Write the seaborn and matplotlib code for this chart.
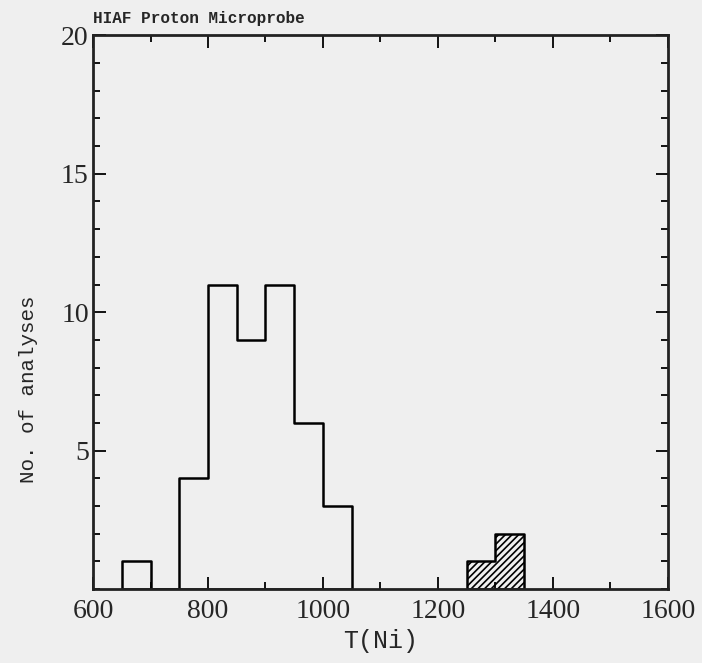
import numpy as np
import pandas as pd
import matplotlib
matplotlib.use('Agg')
import matplotlib.pyplot as plt
from matplotlib.ticker import MultipleLocator, FixedLocator
import seaborn as sns

# histogram data (bin width 50)
main_left_edges = [650, 700, 750, 800, 850, 900, 950, 1000]
main_counts = [1, 0, 4, 11, 9, 11, 6, 3]
hatch_left_edges = [1250, 1300]
hatch_counts = [1, 2]
bin_width = 50

title_text = 'HIAF Proton Microprobe'
x_label = 'T(Ni)'
y_label = 'No. of analyses'

sns.set_style('white')
plt.rcParams['font.family'] = ['Liberation Mono', 'DejaVu Sans']
plt.rcParams['hatch.linewidth'] = 1.2

main_df = pd.DataFrame({'t': np.array(main_left_edges) + bin_width / 2, 'n': main_counts})
hatch_df = pd.DataFrame({'t': np.array(hatch_left_edges) + bin_width / 2, 'n': hatch_counts})
main_bins = main_left_edges + [main_left_edges[-1] + bin_width]
hatch_bins = hatch_left_edges + [hatch_left_edges[-1] + bin_width]

fig = plt.figure(figsize=(7.02, 6.63), dpi=100)
fig.patch.set_facecolor('#efefef')
ax = fig.add_axes([0.1325, 0.1116, 0.819, 0.835])
ax.set_facecolor('#efefef')

sns.histplot(data=main_df, x='t', weights='n', bins=main_bins, element='step',
             fill=True, facecolor='none', color='black', linewidth=1.8, ax=ax)
sns.histplot(data=hatch_df, x='t', weights='n', bins=hatch_bins, element='step',
             fill=True, facecolor='none', color='black', hatch='/////',
             linewidth=1.8, ax=ax)

ax.set_xlim(600, 1600)
ax.set_ylim(0, 20)
ax.xaxis.set_major_locator(MultipleLocator(200))
ax.xaxis.set_minor_locator(MultipleLocator(100))
ax.yaxis.set_major_locator(FixedLocator([5, 10, 15, 20]))
ax.yaxis.set_minor_locator(MultipleLocator(1))
ax.tick_params(which='both', direction='in', top=True, right=True, bottom=True,
               left=True, width=1.3, color='black')
ax.tick_params(which='major', length=9)
ax.tick_params(which='minor', length=5)
ax.tick_params(axis='x', which='major', pad=7)
ax.tick_params(axis='y', which='major', pad=3)
tick_font = ['Liberation Sans Narrow', 'Liberation Serif']
for lab in ax.get_xticklabels() + ax.get_yticklabels():
    lab.set_fontfamily(tick_font)
    lab.set_fontsize(20)
for s in ax.spines.values():
    s.set_linewidth(2)
    s.set_color('#222222')

ax.set_xlabel(x_label, fontsize=18, labelpad=4)
ax.set_ylabel(y_label, fontsize=15)
ax.yaxis.set_label_coords(-0.095, 0.36)
ax.set_title(title_text, fontsize=11.5, fontweight='bold', loc='left', pad=9)

fig.savefig('out.png', dpi=100, facecolor=fig.get_facecolor())
